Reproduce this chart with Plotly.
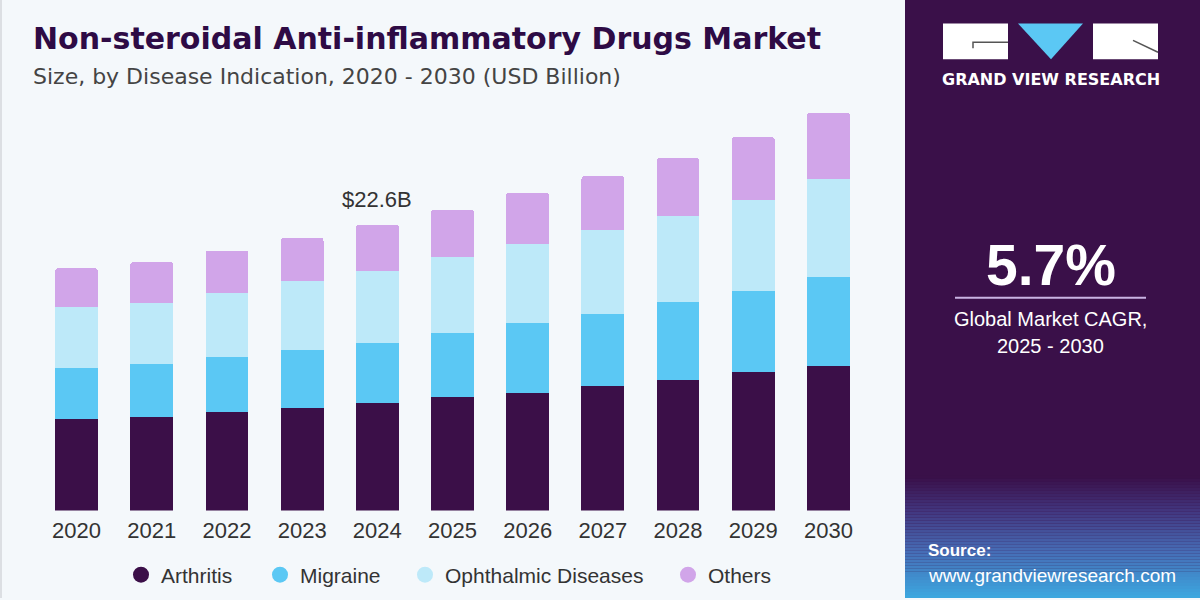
import plotly.graph_objects as go

years = ["2020", "2021", "2022", "2023", "2024", "2025", "2026", "2027", "2028", "2029", "2030"]
arthritis = [7.27, 7.43, 7.80, 8.14, 8.53, 8.98, 9.32, 9.84, 10.34, 10.94, 11.46]
migraine = [4.01, 4.17, 4.37, 4.56, 4.72, 5.03, 5.50, 5.74, 6.16, 6.41, 7.00]
ophthalmic = [4.80, 4.80, 5.06, 5.45, 5.68, 6.02, 6.27, 6.57, 6.82, 7.21, 7.74]
others = [3.07, 3.25, 3.33, 3.41, 3.67, 3.75, 4.06, 4.30, 4.56, 4.98, 5.27]
series_names = ["Arthritis", "Migraine", "Ophthalmic Diseases", "Others"]
series_colors = ["#3b0f48", "#5bc8f4", "#bde9f9", "#d1a5e9"]
highlight_year = "2024"

W, H = 1200, 600
ML, MR, MT, MB = 39, 1200 - 866, 100, 87
PW, PH = W - ML - MR, H - MT - MB
Y_MAX = 32.47

def px(x):
    return (x - ML) / PW

def py(y):
    return (H - MB - y) / PH

BG = "#f4f8fb"
PANEL = "#3a1049"
FONT = "Liberation Sans, Arial, sans-serif"
WIDE = "DejaVu Sans, Verdana, sans-serif"

fig = go.Figure()
for name, vals, col in zip(series_names, [arthritis, migraine, ophthalmic, others], series_colors):
    fig.add_trace(go.Bar(x=years, y=vals, name=name, marker=dict(color=col, line=dict(width=0)),
                         showlegend=False, hoverinfo="y+name"))
leg_widths = [94, 100, 218, 70]
for name, col, lw in zip(series_names, series_colors, leg_widths):
    fig.add_trace(go.Scatter(x=[None], y=[None], mode="markers", name=name,
                             marker=dict(color=col, size=16, symbol="circle"),
                             legendwidth=lw, showlegend=True))

totals = [a + b + c + d for a, b, c, d in zip(arthritis, migraine, ophthalmic, others)]
hi = years.index(highlight_year)

shapes = []
# left thin border
shapes.append(dict(type="rect", xref="paper", yref="paper", x0=px(0), x1=px(2), y0=py(601), y1=py(-1),
                   fillcolor="#dcdfe3", line=dict(width=0), layer="below"))
# right panel
shapes.append(dict(type="rect", xref="paper", yref="paper", x0=px(905), x1=px(1201), y0=py(601), y1=py(-1),
                   fillcolor=PANEL, line=dict(width=0), layer="below"))

def hex2rgb(h):
    h = h.lstrip("#")
    return [int(h[i:i + 2], 16) for i in (0, 2, 4)]

stops = [(478, "#3a1049"), (512, "#42367f"), (552, "#466cb5"), (600, "#3ba8e0")]
y = 478
while y < 600:
    for (ya, ca), (yb, cb) in zip(stops[:-1], stops[1:]):
        if ya <= y < yb:
            t = (y - ya) / (yb - ya)
            a, b = hex2rgb(ca), hex2rgb(cb)
            c = [round(a[i] + (b[i] - a[i]) * t) for i in range(3)]
            break
    shapes.append(dict(type="rect", xref="paper", yref="paper", x0=px(905), x1=px(1201),
                       y0=py(y + 3), y1=py(y), fillcolor="rgb(%d,%d,%d)" % tuple(c),
                       line=dict(width=0), layer="below"))
    y += 3

# logo
shapes.append(dict(type="rect", xref="paper", yref="paper", x0=px(943), x1=px(1008), y0=py(59), y1=py(23),
                   fillcolor="white", line=dict(width=0)))
shapes.append(dict(type="rect", xref="paper", yref="paper", x0=px(1093), x1=px(1158), y0=py(59), y1=py(23),
                   fillcolor="white", line=dict(width=0)))
shapes.append(dict(type="path", xref="paper", yref="paper",
                   path="M %f,%f L %f,%f L %f,%f Z" % (px(1018), py(23), px(1083), py(23), px(1051), py(59)),
                   fillcolor="#5bc8f4", line=dict(width=0)))
shapes.append(dict(type="path", xref="paper", yref="paper",
                   path="M %f,%f L %f,%f L %f,%f" % (px(973), py(48), px(973), py(42), px(1008), py(42)),
                   line=dict(color="#555555", width=1.5)))
shapes.append(dict(type="line", xref="paper", yref="paper", x0=px(1133), y0=py(40), x1=px(1158), y1=py(52),
                   line=dict(color="#555555", width=1.5)))
# divider line
shapes.append(dict(type="line", xref="paper", yref="paper", x0=px(955), y0=py(299), x1=px(1146), y1=py(299),
                   line=dict(color="#c9b3e3", width=2)))

annotations = [
    dict(x=hi, y=totals[hi], xref="x", yref="y", text="$%.1fB" % totals[hi], showarrow=False,
         yanchor="bottom", yshift=11, font=dict(family=FONT, size=22, color="#333333")),
    dict(xref="paper", yref="paper", x=px(31), y=py(38), xanchor="left", yanchor="middle",
         text="<b>Non-steroidal Anti-inflammatory Drugs Market</b>", showarrow=False,
         font=dict(family=WIDE, size=30, color="#2e0b45")),
    dict(xref="paper", yref="paper", x=px(31), y=py(76), xanchor="left", yanchor="middle",
         text="Size, by Disease Indication, 2020 - 2030 (USD Billion)", showarrow=False,
         font=dict(family=WIDE, size=22, color="#444444")),
    dict(xref="paper", yref="paper", x=px(1050.5), y=py(79), xanchor="center", yanchor="middle",
         text="<b>GRAND VIEW RESEARCH</b>", showarrow=False,
         font=dict(family=WIDE, size=16, color="white")),
    dict(xref="paper", yref="paper", x=px(1050.5), y=py(266), xanchor="center", yanchor="middle",
         text="<b>5.7%</b>", showarrow=False, font=dict(family=FONT, size=57, color="white")),
    dict(xref="paper", yref="paper", x=px(1050.5), y=py(320), xanchor="center", yanchor="middle",
         text="Global Market CAGR,", showarrow=False, font=dict(family=FONT, size=20, color="white")),
    dict(xref="paper", yref="paper", x=px(1050.5), y=py(347), xanchor="center", yanchor="middle",
         text="2025 - 2030", showarrow=False, font=dict(family=FONT, size=20, color="white")),
    dict(xref="paper", yref="paper", x=px(926), y=py(553), xanchor="left", yanchor="middle",
         text="<b>Source:</b>", showarrow=False, font=dict(family=FONT, size=17, color="white")),
    dict(xref="paper", yref="paper", x=px(926), y=py(578), xanchor="left", yanchor="middle",
         text="www.grandviewresearch.com", showarrow=False, font=dict(family=FONT, size=19, color="white")),
]

fig.update_layout(
    width=W, height=H,
    margin=dict(l=ML, r=MR, t=MT, b=MB, pad=0),
    paper_bgcolor=BG, plot_bgcolor=BG,
    barmode="stack", bargap=0.43, barcornerradius=3,
    shapes=shapes, annotations=annotations,
    showlegend=True,
    legend=dict(orientation="h", traceorder="normal", xref="container", yref="container",
                x=121 / W, y=1 - 575 / H,
                xanchor="left", yanchor="middle", bgcolor="rgba(0,0,0,0)",
                font=dict(family=FONT, size=21, color="#333333"), itemclick=False),
    xaxis=dict(type="category", range=[-0.5, 10.5], showgrid=False, zeroline=False, showline=False,
               ticks="", ticklabelstandoff=4, tickfont=dict(family=FONT, size=22, color="#333333"),
               fixedrange=True),
    yaxis=dict(range=[0, Y_MAX], visible=False, fixedrange=True),
)

fig.write_html("out.html")
